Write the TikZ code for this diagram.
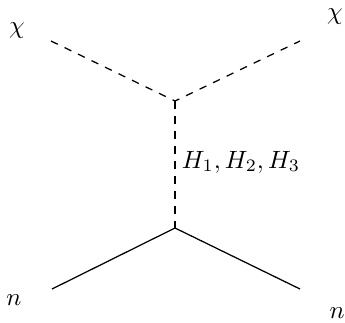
\documentclass[tikz,border=0pt]{standalone}
\usepackage{tikz}

\begin{document}
\begin{tikzpicture}[x=0.4pt, y=-0.4pt,
    scalar/.style={dashed, line width=0.5pt},
    fermion/.style={solid, line width=0.5pt},
    every node/.style={inner sep=0pt}]
    \useasboundingbox (0,0) rectangle (345,322);
    % vertices
    \coordinate (vtop) at (175,101);
    \coordinate (vbot) at (175,228);
    % external legs
    \coordinate (chiin) at (51,41);
    \coordinate (chiout) at (300,41);
    \coordinate (nin) at (52,289);
    \coordinate (nout) at (300,289);
    % labels
    \node (lchiin) at (17,31) {$\chi$};
    \node (lchiout) at (335,17) {$\chi$};
    \node (lnin) at (14,300) {$n$};
    \node (lnout) at (337,313) {$n$};
    % scalar lines
    \draw[scalar] (chiin) -- (vtop) -- (chiout);
    \draw[scalar] (vtop) -- (vbot) node[midway, right, xshift=2.5pt, yshift=1pt] {$H_1, H_2, H_3$};
    % fermion lines
    \draw[fermion] (nin) -- (vbot) -- (nout);
\end{tikzpicture}
\end{document}
